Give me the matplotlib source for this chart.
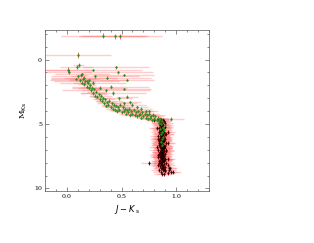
"""
Colour-magnitude diagram, M_Ks versus J-Ks
"""

import matplotlib
matplotlib.use('Agg')
import matplotlib.pyplot as plt
from matplotlib.ticker import MultipleLocator

# =============================================================================
# DATA
# =============================================================================

# Bright stars with large colour errors (green markers).
bright_jk = [0.33, 0.44, 0.49, 0.10, 0.01, 0.02, 0.09, 0.11, 0.24, 0.45,
             0.47, 0.14, 0.26, 0.37, 0.52, 0.08, 0.55, 0.18, 0.52, 0.40]
bright_mk = [-1.85, -1.80, -1.80, -0.35, 0.80, 0.95, 0.60, 0.45, 0.80, 0.60,
             1.00, 1.15, 1.30, 1.40, 1.20, 1.50, 1.60, 1.70, 2.30, 2.10]
bright_jk_err = [0.38, 0.30, 0.38, 0.30, 0.22, 0.20, 0.15, 0.05, 0.45, 0.30,
                 0.32, 0.25, 0.40, 0.40, 0.28, 0.22, 0.25, 0.30, 0.25, 0.35]
bright_mk_err = [0.20, 0.20, 0.20, 0.25, 0.25, 0.20, 0.15, 0.15, 0.10, 0.10,
                 0.10, 0.10, 0.10, 0.10, 0.10, 0.10, 0.10, 0.10, 0.10, 0.10]

# Upper main sequence (green markers).
seq_jk = [0.10, 0.12, 0.13, 0.14, 0.15, 0.16, 0.17, 0.18, 0.19, 0.20,
          0.21, 0.22, 0.23, 0.24, 0.25, 0.26, 0.27, 0.28, 0.29, 0.30,
          0.31, 0.32, 0.33, 0.34, 0.35, 0.36, 0.37, 0.38, 0.39, 0.40,
          0.41, 0.42, 0.43, 0.44, 0.45, 0.46, 0.47, 0.48, 0.49, 0.50,
          0.51, 0.52, 0.53, 0.54, 0.55, 0.56, 0.57, 0.58, 0.59, 0.60,
          0.61, 0.62, 0.63, 0.64, 0.65, 0.66, 0.67, 0.68, 0.69, 0.70,
          0.71, 0.72, 0.73, 0.74, 0.75, 0.76, 0.77, 0.78, 0.79, 0.80,
          0.81, 0.82, 0.83, 0.84, 0.85, 0.86, 0.87, 0.88, 0.85, 0.87,
          0.86, 0.88, 0.87, 0.89, 0.86, 0.88, 0.87, 0.84, 0.90, 0.95,
          0.16, 0.20, 0.30, 0.42, 0.48, 0.55, 0.60, 0.68, 0.75, 0.58,
          0.24, 0.36, 0.52, 0.64, 0.72]
seq_mk = [1.30, 1.60, 1.20, 1.80, 1.50, 1.90, 1.70, 2.10, 1.80, 2.20,
          2.00, 2.40, 2.20, 2.60, 2.30, 2.80, 2.50, 2.90, 2.70, 3.10,
          2.80, 3.20, 3.00, 3.40, 3.10, 3.60, 3.30, 3.50, 3.20, 3.70,
          3.40, 3.80, 3.50, 3.90, 3.60, 4.00, 3.70, 3.90, 3.50, 4.10,
          3.70, 4.00, 3.80, 4.20, 3.90, 4.10, 3.80, 4.30, 4.00, 4.20,
          3.90, 4.30, 4.10, 4.40, 4.00, 4.30, 4.20, 4.50, 4.10, 4.40,
          4.20, 4.50, 4.30, 4.60, 4.20, 4.50, 4.40, 4.70, 4.30, 4.60,
          4.40, 4.70, 4.50, 4.80, 4.60, 5.00, 4.80, 5.20, 5.40, 5.60,
          5.80, 6.00, 6.20, 5.50, 6.40, 5.30, 6.60, 4.90, 5.10, 4.60,
          1.40, 1.60, 2.20, 2.60, 3.00, 2.90, 3.50, 3.80, 4.00, 3.30,
          1.80, 2.40, 3.40, 3.70, 4.00]
seq_jk_err = [0.06, 0.10, 0.05, 0.08, 0.12, 0.06, 0.09, 0.05, 0.07, 0.10,
              0.06, 0.08, 0.05, 0.11, 0.07, 0.06, 0.09, 0.05, 0.08, 0.06,
              0.10, 0.05, 0.07, 0.06, 0.09, 0.05, 0.08, 0.06, 0.12, 0.05,
              0.07, 0.06, 0.09, 0.05, 0.08, 0.06, 0.10, 0.05, 0.07, 0.06,
              0.09, 0.05, 0.08, 0.06, 0.11, 0.05, 0.07, 0.06, 0.09, 0.05,
              0.08, 0.06, 0.10, 0.05, 0.07, 0.06, 0.09, 0.05, 0.08, 0.06,
              0.10, 0.05, 0.07, 0.06, 0.09, 0.05, 0.08, 0.06, 0.11, 0.05,
              0.07, 0.06, 0.09, 0.05, 0.08, 0.06, 0.05, 0.07, 0.06, 0.05,
              0.06, 0.05, 0.07, 0.06, 0.05, 0.06, 0.05, 0.06, 0.07, 0.12,
              0.30, 0.35, 0.25, 0.30, 0.12, 0.10, 0.12, 0.10, 0.08, 0.10,
              0.30, 0.40, 0.12, 0.10, 0.08]
seq_mk_err = 0.12

# Lower main sequence (dark markers).
black_jk = [0.83, 0.86, 0.88, 0.85, 0.89, 0.87, 0.84, 0.90, 0.86, 0.80,
            0.88, 0.85, 0.87, 0.90, 0.86, 0.84, 0.89, 0.87, 0.85, 0.88,
            0.86, 0.89, 0.84, 0.87, 0.91, 0.85, 0.88, 0.86, 0.83, 0.89,
            0.87, 0.85, 0.90, 0.86, 0.88, 0.84, 0.89, 0.87, 0.85, 0.91,
            0.86, 0.88, 0.84, 0.90, 0.87, 0.85, 0.89, 0.86, 0.88, 0.83,
            0.87, 0.89, 0.85, 0.88, 0.86, 0.90, 0.84, 0.87, 0.89, 0.86,
            0.88, 0.85, 0.87, 0.90, 0.86, 0.89, 0.84, 0.88, 0.87, 0.91,
            0.86, 0.89, 0.87, 0.92, 0.85, 0.88, 0.90, 0.87, 0.86, 0.89,
            0.88, 0.93, 0.90, 0.86, 0.95, 0.92, 0.87, 0.89, 0.84, 0.97,
            0.82, 0.92, 0.87, 0.83, 0.92, 0.82, 0.91, 0.83, 0.92, 0.84,
            0.90, 0.88, 0.86, 0.89, 0.91, 0.86, 0.83, 0.85, 0.83, 0.93,
            0.88, 0.87, 0.86, 0.88, 0.87, 0.86, 0.88, 0.87, 0.89, 0.75,
            0.85, 0.88, 0.86, 0.89, 0.87, 0.85, 0.88, 0.86, 0.90, 0.87,
            0.84, 0.87, 0.89, 0.86, 0.88, 0.85, 0.87, 0.89, 0.86, 0.88,
            0.87, 0.86, 0.88, 0.85, 0.89, 0.87, 0.86, 0.88, 0.94, 0.90]
black_mk = [4.60, 4.65, 4.70, 4.75, 4.80, 4.85, 4.90, 4.95, 5.00, 4.70,
            5.05, 5.10, 5.15, 5.20, 5.25, 5.30, 5.35, 5.40, 5.45, 5.50,
            5.55, 5.60, 5.65, 5.70, 5.75, 5.80, 5.85, 5.90, 5.95, 6.00,
            6.05, 6.10, 6.15, 6.20, 6.25, 6.30, 6.35, 6.40, 6.45, 6.50,
            6.55, 6.60, 6.65, 6.70, 6.75, 6.80, 6.85, 6.90, 6.95, 7.00,
            7.05, 7.10, 7.15, 7.20, 7.25, 7.30, 7.35, 7.40, 7.45, 7.50,
            7.55, 7.60, 7.65, 7.70, 7.75, 7.80, 7.85, 7.90, 7.95, 8.00,
            8.05, 8.10, 8.15, 8.20, 8.25, 8.30, 8.35, 8.40, 8.45, 8.50,
            8.55, 8.60, 8.65, 8.70, 8.75, 8.80, 8.85, 8.90, 8.60, 8.75,
            5.30, 5.60, 5.90, 6.20, 6.50, 6.80, 7.10, 7.40, 7.70, 8.00,
            5.80, 6.10, 6.40, 6.70, 7.00, 7.30, 7.60, 7.90, 8.20, 8.40,
            6.00, 6.90, 7.20, 7.50, 7.80, 8.10, 8.30, 6.30, 7.70, 8.00,
            6.15, 6.35, 6.55, 6.75, 6.95, 7.15, 7.35, 7.55, 7.75, 7.95,
            6.45, 6.65, 6.85, 7.05, 7.25, 7.45, 7.65, 7.85, 8.05, 8.25,
            5.70, 5.95, 6.25, 6.60, 6.90, 7.20, 7.50, 7.80, 8.45, 8.60]
black_jk_err = 0.07
black_mk_err = 0.15

# Tick labels.
x_ticks = [0.0, 0.5, 1.0]
x_labels = ['0.0', '0.5', '1.0']
y_ticks = [0, 5, 10]
y_labels = ['0', '5', '10']

# =============================================================================
# PLOT
# =============================================================================

plt.rcParams['font.family'] = ['DejaVu Serif']

fig = plt.figure(figsize=(3.14, 2.43), dpi=100)
ax = fig.add_axes([0.143, 0.214, 0.523, 0.663])

# Horizontal error bars (pink, translucent).
for jk, mk, err in [(bright_jk, bright_mk, bright_jk_err),
                    (seq_jk, seq_mk, seq_jk_err),
                    (black_jk, black_mk, black_jk_err)]:
    ax.errorbar(jk, mk, xerr=err, fmt='none', ecolor='#ff7070',
                elinewidth=1.0, alpha=0.35, capsize=0)

# Vertical error bars (red).
ax.errorbar(black_jk, black_mk, yerr=black_mk_err, fmt='none',
            ecolor='#c00000', elinewidth=0.6, capsize=0)
ax.errorbar(seq_jk, seq_mk, yerr=seq_mk_err, fmt='none',
            ecolor='#dd3030', elinewidth=0.5, capsize=0)
ax.errorbar(bright_jk, bright_mk, yerr=bright_mk_err, fmt='none',
            ecolor='#dd3030', elinewidth=0.5, capsize=0)

# Markers.
ax.plot(black_jk, black_mk, 'o', color='#1a0000', ms=1.5, mew=0)
ax.plot(seq_jk, seq_mk, 'o', color='#1a9a1a', ms=1.7, mew=0)
ax.plot(bright_jk, bright_mk, 'o', color='#1a9a1a', ms=1.7, mew=0)

ax.set_xlim(-0.2, 1.3)
ax.set_ylim(10.2, -2.3)
ax.set_xticks(x_ticks)
ax.set_xticklabels(x_labels)
ax.set_yticks(y_ticks)
ax.set_yticklabels(y_labels)
ax.xaxis.set_minor_locator(MultipleLocator(0.1))
ax.yaxis.set_minor_locator(MultipleLocator(1))
ax.tick_params(which='both', direction='in', top=True, right=True,
               labelsize=4.5, width=0.4, color='#333333', pad=2)
ax.tick_params(which='major', length=3)
ax.tick_params(which='minor', length=1.5)
for s in ax.spines.values():
    s.set_linewidth(0.5)
    s.set_color('#555555')

ax.set_xlabel(r'$J-K_{\rm\ s}$', fontsize=6, labelpad=3)
ax.set_ylabel(r'M$_{\rm Ks}$', fontsize=6, labelpad=4)

fig.savefig('out.png', dpi=100)
